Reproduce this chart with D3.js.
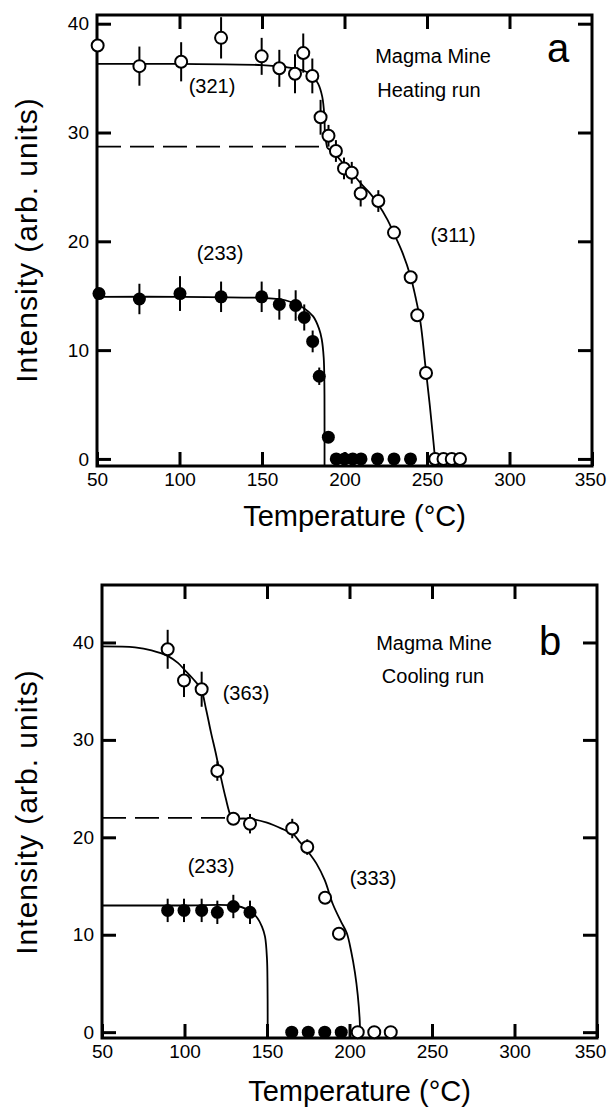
<!DOCTYPE html>
<html>
<head>
<meta charset="utf-8">
<script src="https://cdn.jsdelivr.net/npm/d3@7"></script>
<style>
  body { margin: 0; background: #fff; }
  svg { display: block; }
  text { font-family: "Liberation Sans", Arial, Helvetica, sans-serif; fill: #000; }
</style>
</head>
<body>
<script>
// Values: [temperature, intensity, error]
const heatOpen = [
  [50.4, 38.0, 0], [75.7, 36.1, 1.8], [101, 36.5, 1.8], [125.2, 38.7, 1.9],
  [149.8, 37.0, 1.7], [160.5, 35.9, 1.7], [170, 35.4, 1.8], [175, 37.3, 1.8],
  [180.5, 35.2, 1.6], [185.5, 31.4, 1.6], [190.3, 29.7, 1.0], [194.8, 28.3, 1.0],
  [199.7, 26.7, 1.0], [204.4, 26.3, 1.0], [209.8, 24.4, 1.2], [220.5, 23.7, 1.0],
  [230, 20.8, 0.5], [240.1, 16.7, 0], [244.1, 13.2, 0], [249.4, 7.9, 0],
  [255, 0, 0], [260, 0, 0], [265, 0, 0], [270, 0, 0]
];
const heatFilled = [
  [51.2, 15.2, 0], [75.7, 14.7, 1.4], [100.3, 15.2, 1.6], [125.2, 14.9, 1.4],
  [149.8, 14.9, 1.4], [160.5, 14.2, 1.4], [170.4, 14.1, 1.4], [175.6, 13.0, 1.2],
  [180.7, 10.8, 1.0], [184.7, 7.6, 0.8], [190.2, 2.0, 0],
  [195, 0, 0], [200, 0, 0], [205, 0, 0], [210, 0, 0], [220, 0, 0], [230, 0, 0], [240, 0, 0]
];
const coolOpen = [
  [89.8, 39.3, 2.0], [99.7, 36.1, 1.7], [110.4, 35.2, 1.8], [119.9, 26.8, 1.0],
  [129.6, 21.9, 0], [139.7, 21.4, 1.0], [165.3, 20.9, 1.0], [174.4, 19.0, 0.8],
  [185.2, 13.8, 0.6], [193.6, 10.1, 0],
  [205, 0, 0], [215, 0, 0], [225, 0, 0]
];
const coolFilled = [
  [89.8, 12.5, 1.2], [99.7, 12.5, 1.2], [110.4, 12.5, 1.2], [119.9, 12.3, 1.2],
  [129.6, 12.9, 1.2], [139.7, 12.3, 1.2],
  [165, 0, 0], [175, 0, 0], [185, 0, 0], [195, 0, 0]
];

// fitted curves: [temperature, intensity]
const fit321 = [[50, 36.3], [100, 36.3], [150, 36.2], [165, 36.0], [175, 35.7], [180, 35.3],
  [184, 34.5], [186.5, 33.3], [187.8, 31.5], [188.2, 29.8], [189.5, 28.6]];
const fit311 = [[189.5, 28.6], [195, 27.9], [200, 27.0], [205, 26.2], [210, 25.3], [215, 24.5],
  [220, 23.5], [226, 22.0], [230, 20.7], [235, 19.0], [240, 16.8], [243, 14.9], [246, 12.6],
  [249, 8.6], [251.5, 5.2], [253.5, 2.2], [254.8, 0], [254.8, -0.65]];
const fit233a = [[50, 14.9], [100, 14.9], [150, 14.8], [160, 14.7], [168, 14.4], [175, 13.9],
  [181, 13.1], [184.5, 12.0], [186.2, 11.0], [187.4, 9.3], [187.8, 7], [187.9, 3], [187.9, -0.65]];
const dashA = [[50, 28.7], [189.5, 28.7]];

const fit363 = [[50, 39.6], [70, 39.5], [80, 39.2], [90, 38.6], [96, 37.9], [100, 37.2],
  [105, 36.3], [110, 35.2], [113, 33.2], [116, 30.8], [119, 28.6], [122, 26.2], [125, 24.0],
  [128, 22.2], [129.5, 21.9]];
const fit333 = [[129.5, 21.9], [140, 21.9], [150, 21.5], [160, 20.8], [166, 20.3], [170, 19.5],
  [175, 18.5], [180, 17.3], [185, 15.6], [190, 13.1], [195, 11.3], [198.3, 10.2], [201, 8.3],
  [203.3, 6.1], [205, 3.8], [206.2, 1.2], [206.4, -0.6]];
const fit233b = [[50, 13.0], [100, 13.0], [130, 13.0], [138, 12.6], [143.8, 11.8], [147, 10.8],
  [148.8, 9.8], [150, 7.5], [150.3, 5], [150.4, 2], [150.4, -0.6]];
const dashB = [[50, 22.0], [129.5, 22.0]];

const xTickLabels = [50, 100, 150, 200, 250, 300, 350];
const xInnerTicks = [100, 150, 200, 250, 300];
const yTicks = [0, 10, 20, 30, 40];

const W = 608, H = 1114;
const svg = d3.select("body").append("svg")
  .attr("width", W)
  .attr("height", H);

function drawPanel(p) {
  const x = d3.scaleLinear().domain([50, 350]).range([p.left, p.right]);
  const y = d3.scaleLinear().domain(p.yDomain).range([p.bottom, p.top]);
  const g = svg.append("g");

  const tickLen = 14;
  const styleAxis = sel => {
    sel.select(".domain").remove();
    sel.selectAll(".tick line").attr("stroke", "#000").attr("stroke-width", 3);
    sel.selectAll(".tick text").style("font-size", "19px").attr("fill", "#000");
  };

  const xAxis = g.append("g").attr("transform", `translate(0,${p.bottom})`)
    .call(d3.axisBottom(x).tickValues(xTickLabels).tickSize(-tickLen).tickPadding(7).tickFormat(d3.format("d")))
    .call(styleAxis);
  // last label sits at the page edge, nudge it in a little
  xAxis.selectAll(".tick text").filter(d => d === 350).attr("dx", p.lastDx);

  g.append("g").attr("transform", `translate(0,${p.top})`)
    .call(d3.axisTop(x).tickValues(xInnerTicks).tickSize(-tickLen).tickFormat(""))
    .call(styleAxis);
  g.append("g").attr("transform", `translate(${p.left},0)`)
    .call(d3.axisLeft(y).tickValues(yTicks).tickSize(-tickLen).tickPadding(8).tickFormat(d3.format("d")))
    .call(styleAxis);
  g.append("g").attr("transform", `translate(${p.right},0)`)
    .call(d3.axisRight(y).tickValues(yTicks).tickSize(-tickLen).tickFormat(""))
    .call(styleAxis);

  g.append("rect")
    .attr("x", p.left).attr("y", p.top)
    .attr("width", p.right - p.left).attr("height", p.bottom - p.top)
    .attr("fill", "none").attr("stroke", "#000").attr("stroke-width", 3);

  const line = d3.line()
    .x(d => x(d[0])).y(d => y(d[1]))
    .curve(d3.curveCatmullRom.alpha(0.5));

  p.curves.forEach(c => {
    g.append("path").datum(c)
      .attr("d", line)
      .attr("fill", "none").attr("stroke", "#000").attr("stroke-width", 1.8);
  });
  g.append("path").datum(p.dash)
    .attr("d", d3.line().x(d => x(d[0])).y(d => y(d[1])))
    .attr("fill", "none").attr("stroke", "#000").attr("stroke-width", 1.6)
    .attr("stroke-dasharray", "24,9");

  // error bars then markers
  [p.open, p.filled].forEach(series => {
    g.selectAll(null).data(series.filter(d => d[2] > 0)).enter().append("line")
      .attr("x1", d => x(d[0])).attr("x2", d => x(d[0]))
      .attr("y1", d => y(d[1] - d[2])).attr("y2", d => y(d[1] + d[2]))
      .attr("stroke", "#000").attr("stroke-width", 2);
  });
  g.selectAll(null).data(p.filled).enter().append("circle")
    .attr("cx", d => x(d[0])).attr("cy", d => y(d[1]))
    .attr("r", 6.5).attr("fill", "#000");
  g.selectAll(null).data(p.open).enter().append("circle")
    .attr("cx", d => x(d[0])).attr("cy", d => y(d[1]))
    .attr("r", 6).attr("fill", "#fff").attr("stroke", "#000").attr("stroke-width", 2);

  // annotations
  p.labels.forEach(l => {
    g.append("text").attr("x", l.x).attr("y", l.y)
      .attr("text-anchor", l.anchor || "middle")
      .style("font-size", l.size + "px")
      .text(l.text);
  });

  g.append("text")
    .attr("x", (p.left + p.right) / 2 + 10).attr("y", p.xTitleY)
    .attr("text-anchor", "middle").style("font-size", "29px")
    .text("Temperature (°C)");
  g.append("text")
    .attr("transform", `translate(37,${p.yTitleY}) rotate(-90)`)
    .attr("text-anchor", "middle").style("font-size", "30px")
    .style("letter-spacing", "1px")
    .text("Intensity (arb. units)");
}

drawPanel({
  left: 97, right: 592, top: 15, bottom: 466,
  yDomain: [-0.65, 40.8],
  open: heatOpen, filled: heatFilled,
  curves: [fit321, fit311, fit233a], dash: dashA,
  xTitleY: 526, yTitleY: 240, lastDx: -2,
  labels: [
    { text: "(321)", x: 212, y: 93, size: 20 },
    { text: "(311)", x: 453, y: 242, size: 20 },
    { text: "(233)", x: 220, y: 260, size: 20 },
    { text: "Magma Mine", x: 433, y: 63, size: 20 },
    { text: "Heating run", x: 429, y: 97, size: 20 },
    { text: "a", x: 558, y: 62, size: 40 }
  ]
});

drawPanel({
  left: 102, right: 597, top: 585, bottom: 1038,
  yDomain: [-0.6, 45.9],
  open: coolOpen, filled: coolFilled,
  curves: [fit363, fit333, fit233b], dash: dashB,
  xTitleY: 1101, yTitleY: 812, lastDx: -7,
  labels: [
    { text: "(363)", x: 246, y: 700, size: 20 },
    { text: "(233)", x: 211, y: 873, size: 20 },
    { text: "(333)", x: 373, y: 885, size: 20 },
    { text: "Magma Mine", x: 434, y: 650, size: 20 },
    { text: "Cooling run", x: 433, y: 683, size: 20 },
    { text: "b", x: 550, y: 655, size: 40 }
  ]
});
</script>
</body>
</html>
